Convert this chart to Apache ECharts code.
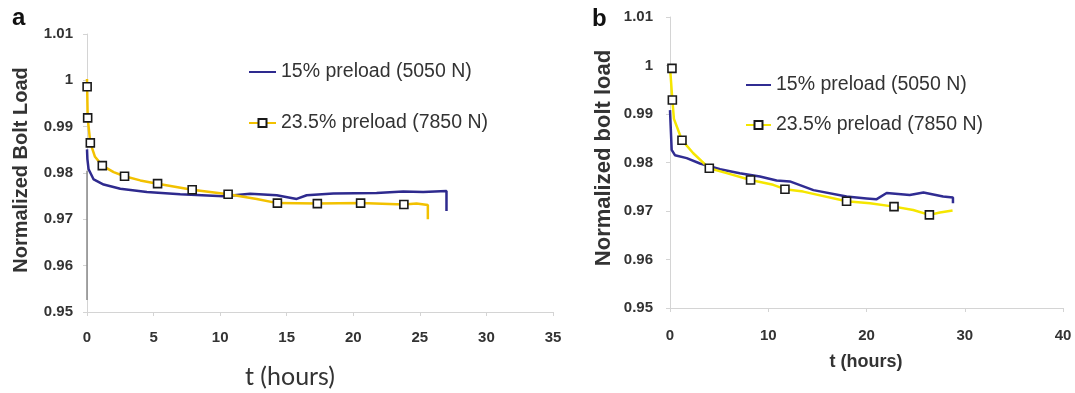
<!DOCTYPE html>
<html>
<head>
<meta charset="utf-8">
<script src="https://cdn.jsdelivr.net/npm/echarts@6/dist/echarts.min.js"></script>
<style>
  html, body { margin: 0; padding: 0; background: #fff; }
  #chart { width: 1075px; height: 393px; }
</style>
</head>
<body>
<div id="chart"></div>
<script>
// panel a — 15% preload (blue)
var tA15 = [0, 0.03, 0.12, 0.5, 1.25, 2.5, 4.5, 7.0, 10.25, 12.25, 14.25, 15.75, 16.5, 18.5, 21.75, 23.75, 25.25, 27.0, 27.0];
var vA15 = [0.9851, 0.9830, 0.9808, 0.9786, 0.9775, 0.9766, 0.9759, 0.9754, 0.9750, 0.9755, 0.9752, 0.9744, 0.9752, 0.9756, 0.9757, 0.9760, 0.9759, 0.9761, 0.9718];
// panel a — 23.5% preload (yellow), squares at markA indices
var tA23 = [0, 0.01, 0.05, 0.25, 0.6, 1.15, 2.0, 2.82, 4.0, 5.3, 7.9, 10.6, 12.75, 14.3, 17.3, 20.55, 23.8, 24.75, 25.6, 25.6];
var vA23 = [1.0003, 0.9986, 0.9919, 0.9865, 0.9835, 0.9816, 0.9802, 0.9793, 0.9784, 0.9777, 0.9764, 0.9754, 0.9744, 0.9735, 0.9734, 0.9735, 0.9732, 0.9734, 0.9731, 0.9700];
var markA = [1, 2, 3, 5, 7, 9, 10, 11, 13, 14, 15, 16];
// panel a — gray start segment at t = 0
var tA0 = [0, 0];
var vA0 = [0.9526, 0.9805];

// panel b — 15% preload (blue)
var tB15 = [0, 0.1, 0.17, 0.5, 1.7, 3.05, 5.1, 7.1, 9.15, 10.85, 12.2, 14.6, 17.97, 20.0, 21.0, 22.05, 24.4, 25.8, 27.8, 28.8, 28.8];
var vB15 = [0.9908, 0.9860, 0.9826, 0.9815, 0.9809, 0.9798, 0.9786, 0.9778, 0.9771, 0.9763, 0.9761, 0.9743, 0.9730, 0.9726, 0.9724, 0.9737, 0.9733, 0.9738, 0.9730, 0.9728, 0.9716];
// panel b — 23.5% preload (yellow)
var tB23 = [0, 0.2, 0.24, 0.4, 1.22, 2.37, 4.0, 5.77, 8.2, 10.5, 11.7, 13.56, 17.97, 20.35, 22.8, 24.75, 26.4, 27.47, 28.76, 28.76];
var vB23 = [0.9997, 0.9994, 0.9929, 0.9890, 0.9846, 0.9819, 0.9788, 0.9778, 0.9764, 0.9754, 0.9745, 0.9740, 0.9720, 0.9716, 0.9709, 0.9702, 0.9692, 0.9697, 0.9701, 0.9701];
var markB = [1, 2, 4, 6, 8, 10, 12, 14, 16];

var legendText = {
  a15: '15% preload (5050 N)', a23: '23.5% preload (7850 N)',
  b15: '15% preload (5050 N)', b23: '23.5% preload (7850 N)'
};

function zip(t, v) {
  return t.map(function (x, i) { return [x, v[i]]; });
}
function withMarks(t, v, marks) {
  return t.map(function (x, i) {
    var item = { value: [x, v[i]] };
    if (marks.indexOf(i) < 0) item.symbol = 'none';
    return item;
  });
}

var font = 'Liberation Sans, Arial, sans-serif';
var tickLabel = { color: '#333', fontFamily: font, fontWeight: 'bold', fontSize: 15 };
var axisLine = { show: true, lineStyle: { color: '#d4d4d4', width: 1 } };
var axisTick = { show: true, length: 4, lineStyle: { color: '#d4d4d4' } };
var markerStyle = { color: '#fff', borderColor: '#1a1a1a', borderWidth: 1.6 };
// blue legend entries: line only, hide the symbol
var noSymbol = { color: 'rgba(0,0,0,0)', borderWidth: 0 };

function yAxis(idx, margin) {
  return {
    type: 'value', gridIndex: idx, min: 0.95, max: 1.01, interval: 0.01,
    axisLine: axisLine, axisTick: axisTick, splitLine: { show: false },
    axisLabel: Object.assign({ margin: margin, formatter: function (v) { return String(+v.toFixed(2)); } }, tickLabel)
  };
}

var option = {
  animation: false,
  backgroundColor: '#fff',
  grid: [
    { left: 87, top: 34, width: 466, height: 278 },
    { left: 670, top: 17, width: 393, height: 291 }
  ],
  xAxis: [
    { type: 'value', gridIndex: 0, min: 0, max: 35, interval: 5,
      axisLine: axisLine, axisTick: axisTick, splitLine: { show: false },
      axisLabel: Object.assign({ margin: 18 }, tickLabel) },
    { type: 'value', gridIndex: 1, min: 0, max: 40, interval: 10,
      axisLine: axisLine, axisTick: axisTick, splitLine: { show: false },
      axisLabel: Object.assign({ margin: 20 }, tickLabel) }
  ],
  yAxis: [yAxis(0, 14), yAxis(1, 17)],
  legend: [
    { data: [{ name: 'a15', itemStyle: noSymbol }, 'a23'], orient: 'vertical', left: 248, top: 62, itemGap: 31, padding: 0,
      itemWidth: 27, itemHeight: 10, formatter: function (n) { return legendText[n]; },
      textStyle: { fontFamily: font, fontSize: 19.5, color: '#333', lineHeight: 20 } },
    { data: [{ name: 'b15', itemStyle: noSymbol }, 'b23'], orient: 'vertical', left: 745, top: 75, itemGap: 20, padding: 0,
      itemWidth: 25, itemHeight: 10, formatter: function (n) { return legendText[n]; },
      textStyle: { fontFamily: font, fontSize: 19.5, color: '#333', lineHeight: 20 } }
  ],
  graphic: [
    { type: 'text', left: 12, top: 6, style: { text: 'a', font: 'bold 24px ' + font, fill: '#111' } },
    { type: 'text', left: 592, top: 7, style: { text: 'b', font: 'bold 24px ' + font, fill: '#111' } },
    { type: 'text', x: 21, y: 170, rotation: Math.PI / 2,
      style: { text: 'Normalized Bolt Load', font: 'bold 20px ' + font, fill: '#333', textAlign: 'center', textVerticalAlign: 'middle' } },
    { type: 'text', x: 604, y: 158, rotation: Math.PI / 2,
      style: { text: 'Normalized bolt load', font: 'bold 22px ' + font, fill: '#333', textAlign: 'center', textVerticalAlign: 'middle' } },
    { type: 'text', x: 290, y: 377,
      style: { text: 't (hours)', font: '25px Lato, "Open Sans", sans-serif', fill: '#333', textAlign: 'center', textVerticalAlign: 'middle' } },
    { type: 'text', x: 866, y: 362,
      style: { text: 't (hours)', font: 'bold 18px ' + font, fill: '#333', textAlign: 'center', textVerticalAlign: 'middle' } }
  ],
  series: [
    { name: 'a0', type: 'line', xAxisIndex: 0, yAxisIndex: 0, symbol: 'none',
      lineStyle: { color: '#8a8a8a', width: 1.5 }, data: zip(tA0, vA0) },
    { name: 'a15', type: 'line', xAxisIndex: 0, yAxisIndex: 0, symbol: 'none',
      itemStyle: { color: '#2e2a8e' }, lineStyle: { color: '#2e2a8e', width: 2.5 }, data: zip(tA15, vA15) },
    { name: 'a23', type: 'line', xAxisIndex: 0, yAxisIndex: 0, symbol: 'rect', symbolSize: 8, showAllSymbol: true,
      itemStyle: markerStyle, lineStyle: { color: '#f2c100', width: 2.5 }, data: withMarks(tA23, vA23, markA) },
    { name: 'b15', type: 'line', xAxisIndex: 1, yAxisIndex: 1, symbol: 'none',
      itemStyle: { color: '#302c92' }, lineStyle: { color: '#302c92', width: 2.5 }, data: zip(tB15, vB15) },
    { name: 'b23', type: 'line', xAxisIndex: 1, yAxisIndex: 1, symbol: 'rect', symbolSize: 8, showAllSymbol: true,
      itemStyle: markerStyle, lineStyle: { color: '#f5e600', width: 2.5 }, data: withMarks(tB23, vB23, markB) }
  ]
};

var myChart = echarts.init(document.getElementById('chart'));
myChart.setOption(option);
</script>
</body>
</html>
